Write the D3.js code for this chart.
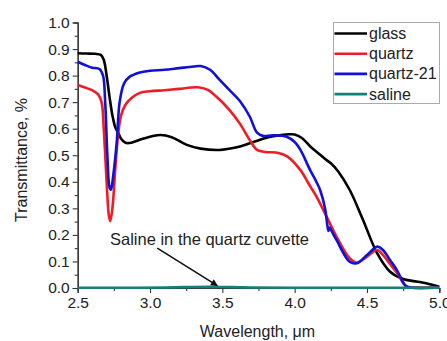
<!DOCTYPE html>
<html>
<head>
<meta charset="utf-8">
<script src="https://cdn.jsdelivr.net/npm/d3@7/dist/d3.min.js"></script>
<style>
  html, body { margin: 0; padding: 0; background: #fff; }
  svg { display: block; font-family: "Liberation Sans", Arial, sans-serif; }
</style>
</head>
<body>
<svg id="chart" width="447" height="341"></svg>
<script>
// Transmission spectra (wavelength in µm, transmittance as fraction)
const glassWl = [2.5, 2.56, 2.62, 2.66, 2.68, 2.70, 2.72, 2.74, 2.76, 2.78, 2.80, 2.83, 2.87, 2.95, 3.07, 3.15, 3.25, 3.35, 3.48, 3.6, 3.69, 3.8, 3.92, 3.96, 4.0, 4.05, 4.11, 4.17, 4.22, 4.25, 4.3, 4.38, 4.47, 4.57, 4.66, 4.75, 4.82, 4.89, 4.95, 5.0];
const glassT  = [0.884, 0.883, 0.882, 0.878, 0.86, 0.80, 0.72, 0.65, 0.605, 0.585, 0.562, 0.547, 0.547, 0.562, 0.576, 0.568, 0.54, 0.525, 0.52, 0.53, 0.545, 0.565, 0.577, 0.579, 0.578, 0.565, 0.532, 0.505, 0.482, 0.47, 0.44, 0.37, 0.26, 0.131, 0.061, 0.034, 0.026, 0.02, 0.012, 0.005];

const quartzWl = [2.5, 2.55, 2.6, 2.64, 2.665, 2.68, 2.70, 2.715, 2.725, 2.74, 2.76, 2.78, 2.80, 2.83, 2.87, 2.93, 3.0, 3.1, 3.2, 3.33, 3.4, 3.46, 3.55, 3.62, 3.69, 3.74, 3.8, 3.87, 3.95, 4.04, 4.1, 4.15, 4.22, 4.29, 4.38, 4.43, 4.5, 4.57, 4.61, 4.66, 4.71, 4.775, 4.85, 5.0];
const quartzT  = [0.765, 0.755, 0.745, 0.73, 0.70, 0.60, 0.40, 0.275, 0.252, 0.30, 0.45, 0.58, 0.65, 0.69, 0.715, 0.735, 0.741, 0.745, 0.75, 0.756, 0.746, 0.72, 0.67, 0.62, 0.557, 0.52, 0.512, 0.51, 0.495, 0.444, 0.39, 0.345, 0.27, 0.193, 0.112, 0.095, 0.118, 0.143, 0.125, 0.09, 0.055, 0.005, 0.002, 0.002];

const quartz21Wl = [2.5, 2.55, 2.6, 2.65, 2.675, 2.69, 2.705, 2.72, 2.73, 2.745, 2.77, 2.79, 2.82, 2.86, 2.93, 3.0, 3.1, 3.2, 3.3, 3.35, 3.415, 3.48, 3.55, 3.62, 3.69, 3.74, 3.78, 3.85, 3.945, 4.0, 4.04, 4.107, 4.15, 4.176, 4.21, 4.225, 4.233, 4.24, 4.25, 4.29, 4.38, 4.43, 4.5, 4.57, 4.61, 4.66, 4.706, 4.763, 4.8, 5.0];
const quartz21T  = [0.852, 0.84, 0.83, 0.825, 0.80, 0.70, 0.50, 0.38, 0.37, 0.42, 0.55, 0.70, 0.77, 0.796, 0.812, 0.818, 0.822, 0.828, 0.834, 0.836, 0.822, 0.785, 0.745, 0.705, 0.645, 0.585, 0.573, 0.575, 0.57, 0.55, 0.52, 0.444, 0.40, 0.369, 0.30, 0.24, 0.215, 0.228, 0.22, 0.18, 0.099, 0.093, 0.124, 0.156, 0.143, 0.105, 0.068, 0.011, 0.002, 0.002];

const salineWl = [2.5, 2.8, 3.1, 3.3, 3.5, 3.7, 4.0, 4.5, 5.0];
const salineT  = [0.001, 0.001, 0.002, 0.004, 0.004, 0.002, 0.001, 0.001, 0.001];

const seriesNames  = ["glass", "quartz", "quartz-21", "saline"];
const seriesColors = ["#000000", "#ee1c24", "#1010d8", "#15807a"];

const xTicks = [2.5, 3.0, 3.5, 4.0, 4.5, 5.0];
const yTicks = [0.0, 0.1, 0.2, 0.3, 0.4, 0.5, 0.6, 0.7, 0.8, 0.9, 1.0];

const series = [
  { wl: glassWl, t: glassT },
  { wl: quartzWl, t: quartzT },
  { wl: quartz21Wl, t: quartz21T },
  { wl: salineWl, t: salineT }
].map((s, i) => ({
  name: seriesNames[i],
  color: seriesColors[i],
  points: s.wl.map((w, j) => [w, s.t[j]])
}));

const svg = d3.select("#chart");
const plotLeft = 77.7, plotRight = 439.3, plotTop = 22.5, plotBottom = 288;

const x = d3.scaleLinear().domain([2.5, 5.0]).range([plotLeft, plotRight]);
const y = d3.scaleLinear().domain([0, 1]).range([plotBottom, plotTop]);

const textColor = "#222";

// Axes
const xAxis = d3.axisBottom(x).tickValues(xTicks).tickFormat(d3.format(".1f")).tickSize(5).tickPadding(4);
const xMinor = d3.axisBottom(x).tickValues(d3.range(2.75, 5.0, 0.5)).tickFormat("").tickSize(3);
const yAxis = d3.axisLeft(y).tickValues(yTicks).tickFormat(d3.format(".1f")).tickSize(5).tickPadding(3);
const yMinor = d3.axisLeft(y).tickValues(d3.range(0.05, 1.0, 0.1)).tickFormat("").tickSize(3);

function styleAxis(g) {
  g.selectAll("path.domain").attr("stroke", "#333").attr("stroke-width", 1.2);
  g.selectAll("line").attr("stroke", "#333").attr("stroke-width", 1.1);
  g.selectAll("text").attr("fill", textColor).attr("font-size", "15.5px")
    .attr("font-family", "'Liberation Sans', Arial, sans-serif");
}

svg.append("g").attr("transform", `translate(0,${plotBottom})`).call(xMinor).call(styleAxis);
svg.append("g").attr("transform", `translate(0,${plotBottom})`).call(xAxis).call(styleAxis);
svg.append("g").attr("transform", `translate(${plotLeft},0)`).call(yMinor).call(styleAxis);
svg.append("g").attr("transform", `translate(${plotLeft},0)`).call(yAxis).call(styleAxis);

// Curves, saline last so it lies over the baseline
const line = d3.line()
  .x(d => x(d[0]))
  .y(d => Math.min(y(d[1]), plotBottom))
  .curve(d3.curveCatmullRom.alpha(0.5));

const plot = svg.append("g");
[0, 1, 2, 3].forEach(i => {
  plot.append("path")
    .datum(series[i].points)
    .attr("fill", "none")
    .attr("stroke", series[i].color)
    .attr("stroke-width", 2.6)
    .attr("stroke-linejoin", "round")
    .attr("d", line);
});

// Axis titles
svg.append("text")
  .attr("x", 257.5).attr("y", 337)
  .attr("text-anchor", "middle")
  .attr("font-size", "16px").attr("fill", textColor)
  .text("Wavelength, \u03bcm");

svg.append("text")
  .attr("transform", "translate(27,160) rotate(-90)")
  .attr("text-anchor", "middle")
  .attr("font-size", "16px").attr("fill", textColor)
  .text("Transmittance, %");

// Annotation with arrow pointing at the saline curve
const defs = svg.append("defs");
defs.append("marker")
  .attr("id", "arrowhead")
  .attr("viewBox", "0 0 10 10")
  .attr("refX", 9).attr("refY", 5)
  .attr("markerWidth", 10).attr("markerHeight", 7)
  .attr("markerUnits", "userSpaceOnUse")
  .attr("orient", "auto")
  .append("path").attr("d", "M0,0 L10,5 L0,10 Z").attr("fill", "#111");

svg.append("text")
  .attr("x", 110).attr("y", 245)
  .attr("font-size", "16.5px").attr("fill", textColor)
  .text("Saline in the quartz cuvette");

svg.append("line")
  .attr("x1", x(3.05)).attr("y1", y(0.15))
  .attr("x2", x(3.465)).attr("y2", y(0.009))
  .attr("stroke", "#111").attr("stroke-width", 1.6)
  .attr("marker-end", "url(#arrowhead)");

// Legend
const legend = svg.append("g");
legend.append("rect")
  .attr("x", 333.5).attr("y", 22.5).attr("width", 106).attr("height", 81)
  .attr("fill", "#fff").attr("stroke", "#aaa").attr("stroke-width", 1);

series.forEach((s, i) => {
  const ly = 33.5 + i * 20.2;
  legend.append("line")
    .attr("x1", 334.5).attr("x2", 367)
    .attr("y1", ly).attr("y2", ly)
    .attr("stroke", s.color).attr("stroke-width", 2.6);
  legend.append("text")
    .attr("x", 369).attr("y", ly + 5.5)
    .attr("font-size", "16px").attr("fill", textColor)
    .text(s.name);
});
</script>
</body>
</html>
